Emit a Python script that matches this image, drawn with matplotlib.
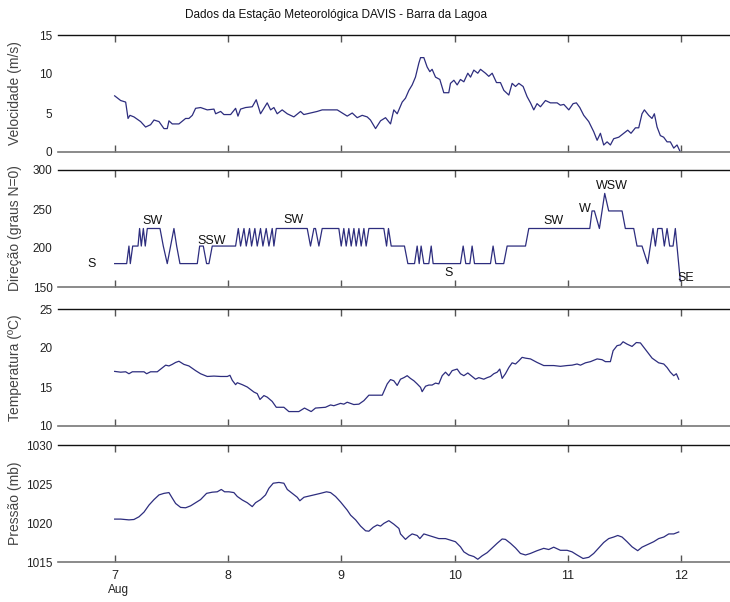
import numpy as np
import matplotlib
matplotlib.use("Agg")
import matplotlib.pyplot as plt

# ---------------- data ----------------
speed_t = [7.000, 7.053, 7.097, 7.118, 7.135, 7.170, 7.229, 7.273, 7.317, 7.347, 7.391, 7.435,
           7.464, 7.479, 7.508, 7.567, 7.626, 7.655, 7.685, 7.714, 7.758, 7.817, 7.876, 7.891,
           7.935, 7.964, 8.023, 8.067, 8.088, 8.111, 8.155, 8.214, 8.249, 8.287, 8.346, 8.376,
           8.405, 8.434, 8.478, 8.523, 8.581, 8.640, 8.669, 8.728, 8.787, 8.831, 8.905, 8.964,
           9.008, 9.052, 9.096, 9.140, 9.184, 9.228, 9.257, 9.302, 9.346, 9.390, 9.434, 9.463,
           9.493, 9.537, 9.566, 9.596, 9.625, 9.654, 9.684, 9.699, 9.728, 9.757, 9.781, 9.801,
           9.831, 9.869, 9.904, 9.948, 9.963, 9.993, 10.022, 10.051, 10.081, 10.116, 10.140,
           10.169, 10.204, 10.228, 10.272, 10.301, 10.331, 10.369, 10.404, 10.434, 10.478,
           10.507, 10.537, 10.566, 10.604, 10.639, 10.669, 10.698, 10.727, 10.757, 10.801,
           10.845, 10.904, 10.933, 10.963, 11.007, 11.045, 11.074, 11.104, 11.139, 11.183,
           11.227, 11.257, 11.286, 11.315, 11.345, 11.374, 11.403, 11.448, 11.492, 11.527,
           11.556, 11.595, 11.624, 11.653, 11.674, 11.712, 11.741, 11.762, 11.786, 11.815,
           11.844, 11.874, 11.903, 11.933, 11.962, 11.991]
speed_v = [7.2, 6.6, 6.4, 4.3, 4.7, 4.5, 3.9, 3.2, 3.5, 4.1, 3.9, 3.0,
           3.0, 4.0, 3.6, 3.6, 4.3, 4.3, 4.7, 5.6, 5.7, 5.4, 5.5, 4.9,
           5.2, 4.8, 4.8, 5.6, 4.6, 5.5, 5.7, 5.8, 6.7, 4.9, 6.3, 5.4,
           5.7, 4.9, 5.4, 4.9, 4.5, 5.2, 4.8, 5.0, 5.2, 5.4, 5.4, 5.4,
           5.0, 4.6, 5.0, 4.4, 4.7, 4.5, 4.1, 3.0, 4.0, 4.4, 3.6, 5.4,
           4.9, 6.4, 6.9, 7.9, 8.6, 9.6, 11.4, 12.1, 12.1, 10.9, 10.3, 10.6,
           9.6, 9.3, 7.6, 7.6, 8.8, 9.2, 8.6, 9.3, 9.0, 10.1, 9.6,
           10.5, 10.1, 10.6, 10.1, 9.7, 10.1, 8.9, 8.9, 7.9, 7.3,
           8.8, 8.4, 8.8, 8.4, 7.1, 6.3, 5.4, 6.2, 5.8, 6.6,
           6.3, 6.3, 6.0, 6.1, 5.4, 6.2, 6.3, 5.7, 4.7, 3.9,
           2.6, 1.5, 2.4, 0.9, 1.3, 0.9, 1.7, 1.9, 2.4, 2.8,
           2.4, 3.1, 3.1, 4.9, 5.4, 4.7, 4.3, 4.9, 3.2, 2.1,
           1.9, 1.3, 1.3, 0.5, 0.9, 0.0]

dir_t = [7.000, 7.106, 7.126, 7.138, 7.159, 7.206, 7.220, 7.235, 7.253, 7.270, 7.288, 7.400,
         7.429, 7.464, 7.523, 7.547, 7.576, 7.729, 7.750, 7.782, 7.811, 7.832, 7.861, 8.067,
         8.091, 8.111, 8.141, 8.161, 8.190, 8.208, 8.237, 8.258, 8.287, 8.308, 8.337, 8.361,
         8.390, 8.405, 8.426, 8.699, 8.728, 8.758, 8.772, 8.802, 8.831, 8.978, 8.999, 9.022,
         9.043, 9.066, 9.087, 9.111, 9.131, 9.155, 9.175, 9.199, 9.219, 9.243, 9.375, 9.399,
         9.416, 9.440, 9.557, 9.587, 9.646, 9.669, 9.687, 9.704, 9.728, 9.772, 9.793, 9.810,
         10.051, 10.075, 10.098, 10.134, 10.154, 10.175, 10.316, 10.339, 10.363, 10.433,
         10.463, 10.625, 10.654, 11.192, 11.212, 11.233, 11.277, 11.324, 11.359, 11.477,
         11.506, 11.580, 11.609, 11.653, 11.703, 11.750, 11.771, 11.792, 11.830, 11.850,
         11.874, 11.897, 11.927, 11.947, 11.991]
dir_v = [180, 180, 202.5, 180, 202.5, 202.5, 225, 202.5, 225, 202.5, 225, 225,
         202.5, 180, 225, 202.5, 180, 180, 202.5, 202.5, 180, 180, 202.5, 202.5,
         225, 202.5, 225, 202.5, 225, 202.5, 225, 202.5, 225, 202.5, 225, 202.5,
         225, 202.5, 225, 225, 202.5, 225, 225, 202.5, 225, 225, 202.5, 225,
         202.5, 225, 202.5, 225, 202.5, 225, 202.5, 225, 202.5, 225, 225, 202.5,
         225, 202.5, 202.5, 180, 180, 202.5, 180, 202.5, 180, 180, 202.5, 180,
         180, 202.5, 180, 180, 202.5, 180, 180, 202.5, 180, 180,
         202.5, 202.5, 225, 225, 247.5, 247.5, 225, 270, 247.5, 247.5,
         225, 225, 202.5, 202.5, 180, 225, 202.5, 225, 225, 202.5,
         225, 202.5, 202.5, 225, 157.5]

dir_labels = ["S", "SW", "SSW", "SW", "S", "SW", "W", "WSW", "SE"]
dir_label_t = [6.80, 7.33, 7.86, 8.58, 9.95, 10.87, 11.15, 11.39, 12.04]
dir_label_v = [180, 234, 209, 236, 168, 234, 250, 279, 162]

temp_t = [7.000, 7.053, 7.097, 7.126, 7.156, 7.259, 7.282, 7.317, 7.376, 7.450, 7.479, 7.508,
          7.538, 7.567, 7.611, 7.655, 7.714, 7.758, 7.817, 7.876, 7.935, 7.994, 8.017, 8.038,
          8.067, 8.082, 8.126, 8.170, 8.229, 8.258, 8.282, 8.317, 8.346, 8.390, 8.426, 8.493,
          8.537, 8.625, 8.675, 8.734, 8.772, 8.860, 8.905, 8.934, 8.993, 9.022, 9.052, 9.110,
          9.155, 9.199, 9.243, 9.361, 9.405, 9.434, 9.463, 9.493, 9.522, 9.552, 9.581, 9.610,
          9.640, 9.669, 9.699, 9.713, 9.743, 9.772, 9.801, 9.831, 9.860, 9.890, 9.919, 9.948,
          9.978, 10.022, 10.051, 10.081, 10.116, 10.154, 10.184, 10.213, 10.257, 10.287,
          10.316, 10.345, 10.375, 10.398, 10.419, 10.448, 10.478, 10.507, 10.537, 10.566,
          10.595, 10.625, 10.669, 10.727, 10.786, 10.874, 10.933, 10.992, 11.036, 11.080,
          11.110, 11.154, 11.198, 11.257, 11.301, 11.330, 11.374, 11.398, 11.433, 11.462,
          11.486, 11.521, 11.565, 11.603, 11.639, 11.668, 11.712, 11.742, 11.771, 11.800,
          11.845, 11.874, 11.903, 11.933, 11.956, 11.977]
temp_v = [17.0, 16.9, 16.95, 16.7, 16.95, 16.95, 16.7, 16.95, 16.95, 17.8, 17.7, 17.9,
          18.15, 18.3, 17.9, 17.7, 17.1, 16.7, 16.35, 16.4, 16.35, 16.35, 16.5, 15.85,
          15.3, 15.55, 15.3, 15.0, 14.35, 14.15, 13.4, 13.9, 13.7, 13.15, 12.4, 12.4,
          11.85, 11.85, 12.3, 11.85, 12.3, 12.4, 12.7, 12.6, 12.9, 12.8, 13.05, 12.75,
          12.8, 13.25, 13.95, 13.95, 15.4, 15.95, 15.8, 15.2, 16.0, 16.2, 16.45, 16.1,
          15.8, 15.4, 14.95, 14.4, 15.1, 15.25, 15.25, 15.5, 15.4, 16.45, 16.9, 16.45,
          17.1, 17.3, 16.7, 16.45, 16.8, 16.35, 16.0, 16.2, 16.0, 16.2,
          16.35, 16.7, 16.9, 17.3, 16.1, 16.7, 17.5, 18.1, 17.95, 18.35,
          18.8, 18.7, 18.6, 18.15, 17.75, 17.75, 17.65, 17.75, 17.8, 17.95,
          17.8, 18.1, 18.25, 18.6, 18.5, 18.25, 18.25, 19.65, 20.3, 20.4,
          20.8, 20.5, 20.2, 20.7, 20.65, 20.1, 19.25, 18.7, 18.4, 18.1,
          17.95, 17.5, 16.9, 16.45, 16.7, 16.0]

pres_t = [7.000, 7.053, 7.126, 7.170, 7.215, 7.259, 7.303, 7.347, 7.391, 7.435, 7.479, 7.508,
          7.538, 7.582, 7.626, 7.670, 7.714, 7.758, 7.811, 7.861, 7.905, 7.941, 7.970, 8.008,
          8.052, 8.082, 8.126, 8.170, 8.214, 8.243, 8.287, 8.331, 8.361, 8.399, 8.449, 8.493,
          8.523, 8.567, 8.611, 8.634, 8.670, 8.714, 8.758, 8.816, 8.869, 8.905, 8.949, 8.993,
          9.052, 9.082, 9.126, 9.170, 9.214, 9.243, 9.281, 9.317, 9.346, 9.375, 9.419, 9.463,
          9.508, 9.522, 9.566, 9.596, 9.625, 9.669, 9.693, 9.728, 9.772, 9.816, 9.860, 9.919,
          9.963, 10.007, 10.051, 10.081, 10.125, 10.169, 10.204, 10.243, 10.287, 10.331,
          10.375, 10.419, 10.448, 10.492, 10.537, 10.580, 10.625, 10.669, 10.727, 10.786,
          10.830, 10.874, 10.933, 10.992, 11.036, 11.080, 11.133, 11.183, 11.227, 11.271,
          11.315, 11.359, 11.403, 11.439, 11.477, 11.521, 11.565, 11.615, 11.653, 11.697,
          11.756, 11.800, 11.845, 11.889, 11.933, 11.977]
pres_v = [1020.5, 1020.5, 1020.4, 1020.45, 1020.8, 1021.4, 1022.3, 1023.0, 1023.6, 1023.8, 1023.9, 1023.2,
          1022.5, 1022.0, 1021.95, 1022.2, 1022.6, 1023.0, 1023.8, 1023.95, 1024.0, 1024.3, 1024.0, 1024.0,
          1023.9, 1023.4, 1022.95, 1022.6, 1022.1, 1022.6, 1023.0, 1023.6, 1024.45, 1025.1, 1025.2, 1025.1,
          1024.3, 1023.8, 1023.3, 1022.85, 1023.3, 1023.45, 1023.6, 1023.8, 1024.0, 1023.9, 1023.4, 1022.7,
          1021.65, 1021.0, 1020.4, 1019.6, 1019.0, 1018.95, 1019.45, 1019.75, 1019.6, 1019.95, 1020.3, 1019.85,
          1019.3, 1018.6, 1017.9, 1018.3, 1018.6, 1018.4, 1018.0, 1018.6, 1018.4, 1018.2, 1018.0, 1018.0,
          1017.8, 1017.6, 1016.95, 1016.3, 1015.9, 1015.7, 1015.35, 1015.8, 1016.2, 1016.8,
          1017.4, 1017.95, 1017.9, 1017.4, 1016.8, 1016.1, 1015.9, 1016.1, 1016.45, 1016.75,
          1016.6, 1016.9, 1016.5, 1016.5, 1016.3, 1015.9, 1015.45, 1015.6, 1016.1, 1016.8,
          1017.5, 1018.0, 1018.2, 1018.4, 1018.2, 1017.6, 1016.95, 1016.45, 1016.9, 1017.2,
          1017.6, 1018.0, 1018.2, 1018.6, 1018.6, 1018.85]

xtick_vals = [7, 8, 9, 10, 11, 12]
xtick_labels = ["7", "8", "9", "10", "11", "12"]
ylabels = ["Velocidade (m/s)", "Direção (graus N=0)", "Temperatura (ºC)", "Pressão (mb)"]
yticks = [[0, 5, 10, 15], [150, 200, 250, 300], [10, 15, 20, 25], [1015, 1020, 1025, 1030]]
title = "Dados da Estação Meteorológica DAVIS - Barra da Lagoa"

# ---------------- style ----------------
W, H = 730, 602
SANS = ["Liberation Sans", "DejaVu Sans"]
LINE = "#2d2d7e"

fig = plt.figure(figsize=(W / 100, H / 100), dpi=100)
fig.patch.set_facecolor("white")

left_px, right_px = 58, 738
tops_px = [35, 170, 309, 445]
h_px = 117

series = [(speed_t, speed_v), (dir_t, dir_v), (temp_t, temp_v), (pres_t, pres_v)]
axes = []
for i, top in enumerate(tops_px):
    ax = fig.add_axes([left_px / W, 1 - (top + h_px) / H, (right_px - left_px) / W, h_px / H])
    t, v = series[i]
    ax.plot(t, v, color=LINE, lw=0.9)
    ax.set_xlim(6.5, 12.5)
    ax.set_ylim(yticks[i][0], yticks[i][-1])
    ax.set_yticks(yticks[i])
    ax.set_yticklabels([str(y) for y in yticks[i]], fontfamily=SANS, fontsize=8.5, color="#222222")
    ax.set_xticks(xtick_vals)
    if i == 3:
        ax.set_xticklabels(xtick_labels, fontfamily=SANS, fontsize=9, color="#222222")
    else:
        ax.set_xticklabels([])
    ax.tick_params(axis="x", direction="in", top=True, bottom=True, length=5, width=1.0,
                   color="#555555", pad=6)
    ax.tick_params(axis="y", direction="in", left=False, right=False, length=0, pad=4)
    ax.spines["left"].set_visible(False)
    ax.spines["right"].set_visible(False)
    ax.spines["top"].set_color("#111111")
    ax.spines["top"].set_linewidth(1.0)
    ax.spines["bottom"].set_color("#777777")
    ax.spines["bottom"].set_linewidth(1.2)
    ax.set_ylabel(ylabels[i], fontfamily=SANS, fontsize=10, color="#444444")
    ax.yaxis.set_label_coords((22 - left_px) / (right_px - left_px), 0.5)
    axes.append(ax)

for lab, t, v in zip(dir_labels, dir_label_t, dir_label_v):
    axes[1].text(t, v, lab, ha="center", va="center", fontfamily=SANS, fontsize=9,
                 color="#111111")

fig.text(336 / W, 1 - 15 / H, title, ha="center", va="center", fontfamily=SANS,
         fontsize=8.5, color="#111111")
fig.text(108 / W, 1 - 590 / H, "Aug", ha="left", va="center", fontfamily=SANS,
         fontsize=8.5, color="#222222")

fig.savefig("out.png", dpi=100, facecolor="white")
